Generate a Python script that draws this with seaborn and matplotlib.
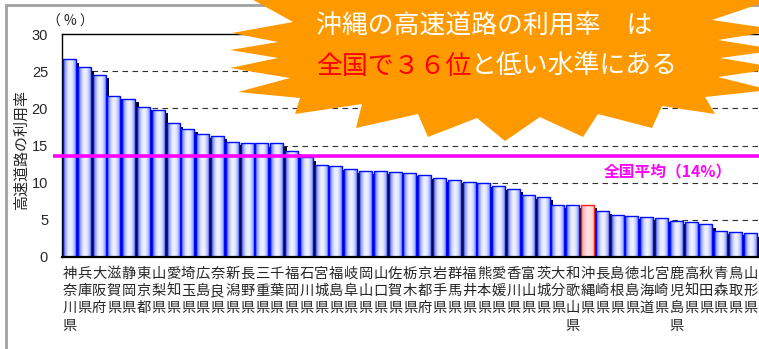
import numpy as np
import pandas as pd
import matplotlib
matplotlib.use("Agg")
import matplotlib.pyplot as plt
import seaborn as sns
from matplotlib.patches import Polygon, Rectangle
from matplotlib.colors import LinearSegmentedColormap

# ---------------- data ----------------
prefectures = ["神奈川県", "兵庫県", "大阪府", "滋賀県", "静岡県", "東京都", "山梨県", "愛知県",
               "埼玉県", "広島県", "奈良県", "新潟県", "長野県", "三重県", "千葉県", "福岡県",
               "石川県", "宮城県", "福島県", "岐阜県", "岡山県", "山口県", "佐賀県", "栃木県",
               "京都府", "岩手県", "群馬県", "福井県", "熊本県", "愛媛県", "香川県", "富山県",
               "茨城県", "大分県", "和歌山県", "沖縄県", "長崎県", "島根県", "徳島県", "北海道",
               "宮崎県", "鹿児島県", "高知県", "秋田県", "青森県", "鳥取県", "山形県"]
usage_rate = [26.6, 25.5, 24.5, 21.7, 21.3, 20.2, 19.8, 18.0, 17.2, 16.5,
              16.3, 15.5, 15.3, 15.3, 15.3, 14.3, 13.4, 12.4, 12.2, 11.8,
              11.6, 11.6, 11.4, 11.3, 11.0, 10.6, 10.4, 10.1, 9.9, 9.5,
              9.15, 8.3, 8.1, 7.0, 7.0, 7.0, 6.2, 5.7, 5.5, 5.4,
              5.2, 4.9, 4.7, 4.4, 3.5, 3.4, 3.2]
highlight = "沖縄県"
national_avg = 13.6
y_ticks = [0, 5, 10, 15, 20, 25, 30]

df = pd.DataFrame({"pref": prefectures, "rate": usage_rate})

# ---------------- style ----------------
sns.set_style("white")
plt.rcParams["font.family"] = ["Noto Sans CJK JP", "DejaVu Sans"]

W, H = 759, 349
fig = plt.figure(figsize=(W / 100, H / 100), dpi=100)
ax = fig.add_axes([62 / W, (H - 257) / H, (761 - 62) / W, (257 - 34) / H])

bar_w = 0.88
sns.barplot(data=df, x="pref", y="rate", color="#8090f0", width=bar_w,
            edgecolor="#0010ff", linewidth=1.0, ax=ax, zorder=3)

# drop shadows
pos = np.arange(len(prefectures))
ax.bar(pos + 0.22, np.array(usage_rate) - 0.45, width=bar_w, color="black",
       linewidth=0, zorder=1.5)

# gradient fills clipped to bars
blue_cmap = LinearSegmentedColormap.from_list(
    "bl", ["#5060f0", "#95a2fb", "#dadfff", "#f2f4ff", "#e2e6ff", "#a9b4fc", "#6a7af4"])
pink_cmap = LinearSegmentedColormap.from_list(
    "pk", ["#ff9a9a", "#ffc8c8", "#ffe6e6", "#ffd6d6", "#ffb0b0"])
grad = np.linspace(0, 1, 64).reshape(1, -1)
for p in list(ax.patches):
    h = p.get_height()
    if not np.isfinite(h) or h <= 0 or p.get_facecolor()[:3] == (0, 0, 0):
        continue
    x0 = p.get_x()
    w = p.get_width()
    idx = int(round(x0 + w / 2))
    if idx < 0 or idx >= len(prefectures) or abs(w - bar_w) > 1e-6:
        continue
    is_hl = prefectures[idx] == highlight
    im = ax.imshow(grad, cmap=pink_cmap if is_hl else blue_cmap,
                   extent=[x0, x0 + w, 0, h], aspect="auto", zorder=2.5,
                   interpolation="bilinear")
    im.set_clip_path(p)
    p.set_facecolor("none")
    p.set_edgecolor("#ff2020" if is_hl else "#0010ff")
    p.set_zorder(3)

ax.set_xlim(-0.51, 46.72)
ax.set_ylim(0, 30)

# grid
for yv in y_ticks[1:-1]:
    ax.axhline(yv, color="#303030", lw=0.8, ls=(0, (5, 4)), zorder=1)

# average line
ax.plot([-1.15, 47], [national_avg, national_avg], color="#ff00ff", lw=2.6,
        zorder=4, clip_on=False, solid_capstyle="butt")
ax.text(40.45, 11.4, "全国平均（14%）", color="#ff00ff", fontsize=11.3,
        fontweight="bold", ha="center", va="center", zorder=5)

# axes
ax.spines["right"].set_visible(False)
ax.spines["left"].set_color("black")
ax.spines["top"].set_color("black")
ax.spines["top"].set_linewidth(1.0)
ax.spines["bottom"].set_color("black")
ax.spines["bottom"].set_linewidth(1.6)
ax.spines["left"].set_linewidth(1.0)
ax.spines["bottom"].set_zorder(6)

ax.set_yticks(y_ticks)
ax.set_yticklabels([str(v) for v in y_ticks], fontsize=10.5,
                   family=["Liberation Sans", "DejaVu Sans"])
ax.tick_params(axis="y", direction="in", length=3, width=0.8, pad=10, left=True)
ax.set_xticks(pos)
ax.set_xticklabels(["\n".join(n) for n in prefectures], fontsize=10.3, linespacing=1.3)
ax.tick_params(axis="x", length=0, pad=7)
ax.set_xlabel("")
ax.set_ylabel("")

fig.text(22 / W, 1 - 150 / H, "高速道路の利用率", rotation=90, fontsize=10.8,
         ha="center", va="center")
fig.text(70 / W, 1 - 22 / H, "（ % ）", fontsize=10, ha="center", va="center")

# outer frame
fig.add_artist(Rectangle((6 / W, -0.1), 1.2, 1 - 5 / H + 0.1, transform=fig.transFigure,
                         fill=False, edgecolor="#a0a0a0", lw=2.0, zorder=0))

# starburst callout
burst_px = [(248, -3), (700, -3), (780, -3), (712, 20), (780, 30), (718, 40), (780, 50),
            (720, 58), (780, 68), (718, 77), (770, 90), (705, 97), (715, 114),
            (662, 106), (652, 128), (598, 114), (583, 137), (540, 117), (505, 141),
            (477, 118), (428, 137), (418, 114), (356, 128), (362, 104), (295, 114),
            (300, 98), (238, 92), (290, 78), (230, 68), (278, 58), (230, 50),
            (278, 42), (232, 33), (293, 22)]
burst = Polygon([(x / W, 1 - y / H) for x, y in burst_px], closed=True,
                transform=fig.transFigure, facecolor="#ff9900", edgecolor="none",
                zorder=10)
fig.add_artist(burst)

fs = 18.6
t1 = fig.text(316 / W, 1 - 26 / H, "沖縄の高速道路の利用率　は", color="white",
              fontsize=fs, ha="left", va="center", zorder=11)
t2 = fig.text(316 / W, 1 - 66 / H, "全国で３６位", color="#ff0000",
              fontsize=fs, ha="left", va="center", zorder=11)
fig.canvas.draw()
bb = t2.get_window_extent(renderer=fig.canvas.get_renderer())
fig.text(bb.x1 / W, 1 - 66 / H, "と低い水準にある", color="white",
         fontsize=fs, ha="left", va="center", zorder=11)

fig.savefig("out.png", dpi=100)
